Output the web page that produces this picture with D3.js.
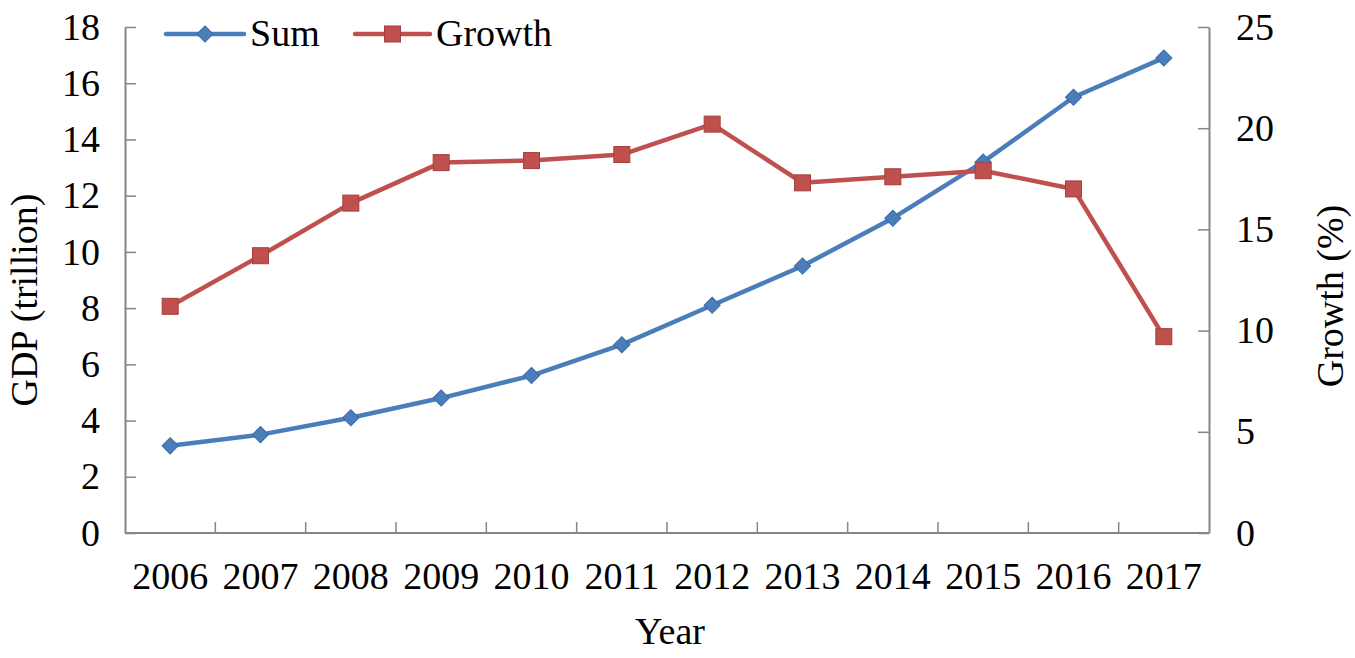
<!DOCTYPE html>
<html>
<head>
<meta charset="utf-8">
<script src="https://cdn.jsdelivr.net/npm/d3@7"></script>
<style>
  html, body { margin: 0; padding: 0; background: #fff; }
  svg { display: block; }
  text { font-family: "Liberation Serif", "Times New Roman", serif; fill: #000; }
</style>
</head>
<body>
<svg id="chart" width="1355" height="658"></svg>
<script>
const years = ["2006","2007","2008","2009","2010","2011","2012","2013","2014","2015","2016","2017"];
const sumValues = [3.1, 3.5, 4.1, 4.8, 5.6, 6.7, 8.1, 9.5, 11.2, 13.2, 15.5, 16.9];
const growthValues = [11.2, 13.7, 16.3, 18.3, 18.4, 18.7, 20.2, 17.3, 17.6, 17.9, 17.0, 9.7];
const leftTicks = [0, 2, 4, 6, 8, 10, 12, 14, 16, 18];
const rightTicks = [0, 5, 10, 15, 20, 25];
const seriesNames = ["Sum", "Growth"];

const svg = d3.select("#chart");
const m = { left: 125, right: 1209, top: 27, bottom: 533 };
const axisColor = "#868686";
const blue = "#4A7EBB", blueDark = "#3A6AA5";
const red = "#C0504D", redDark = "#A33F3C";
const fs = 38;

const x = d3.scaleBand().domain(years).range([m.left, m.right]).paddingInner(0).paddingOuter(0);
const yL = d3.scaleLinear().domain([0, 18]).range([m.bottom, m.top]);
const yR = d3.scaleLinear().domain([0, 25]).range([m.bottom, m.top]);

// left axis
const gL = svg.append("g").attr("transform", `translate(${m.left},0)`)
  .call(d3.axisLeft(yL).tickValues(leftTicks).tickSizeInner(-11).tickSizeOuter(0).tickPadding(0).tickFormat(d3.format("d")));
gL.select(".domain").attr("stroke", axisColor).attr("stroke-width", 2);
gL.selectAll(".tick line").attr("stroke", axisColor).attr("stroke-width", 1.5);
gL.selectAll(".tick text").attr("x", -25).attr("font-size", fs).attr("font-family", "Liberation Serif").attr("fill", "#000");

// right axis
const gR = svg.append("g").attr("transform", `translate(${m.right},0)`)
  .call(d3.axisRight(yR).tickValues(rightTicks).tickSizeInner(-11).tickSizeOuter(0).tickFormat(d3.format("d")));
gR.select(".domain").attr("stroke", axisColor).attr("stroke-width", 2);
gR.selectAll(".tick line").attr("stroke", axisColor).attr("stroke-width", 1.5);
gR.selectAll(".tick text").attr("x", 27).attr("font-size", fs).attr("font-family", "Liberation Serif").attr("fill", "#000");

// bottom axis: ticks between categories
const gB = svg.append("g").attr("transform", `translate(0,${m.bottom})`)
  .call(d3.axisBottom(x).tickSize(0).tickPadding(29));
gB.select(".domain").attr("stroke", axisColor).attr("stroke-width", 2).attr("d", `M${m.left},0H${m.right}`);
gB.selectAll(".tick text").attr("font-size", fs).attr("font-family", "Liberation Serif").attr("fill", "#000").attr("dy", "0.71em");
const boundaries = years.slice(1).map(d => x(d));
gB.selectAll("line.sep").data(boundaries).enter().append("line")
  .attr("class", "sep").attr("x1", d => d).attr("x2", d => d).attr("y1", 0).attr("y2", -11)
  .attr("stroke", axisColor).attr("stroke-width", 1.5);

// axis titles
svg.append("text").attr("x", 670).attr("y", 644).attr("text-anchor", "middle").attr("font-size", fs).text("Year");
svg.append("text").attr("transform", `translate(37,300) rotate(-90)`)
  .attr("text-anchor", "middle").attr("font-size", fs).text("GDP (trillion)");
svg.append("text").attr("transform", `translate(1343,296) rotate(-90)`)
  .attr("text-anchor", "middle").attr("font-size", fs).text("Growth (%)");

const cx = d => x(d) + x.bandwidth() / 2;

// Sum line
const lineL = d3.line().x((d, i) => cx(years[i])).y(d => yL(d));
svg.append("path").datum(sumValues).attr("d", lineL).attr("fill", "none")
  .attr("stroke", blue).attr("stroke-width", 4.5).attr("stroke-linejoin", "round");
// Growth line
const lineR = d3.line().x((d, i) => cx(years[i])).y(d => yR(d));
svg.append("path").datum(growthValues).attr("d", lineR).attr("fill", "none")
  .attr("stroke", red).attr("stroke-width", 4.5).attr("stroke-linejoin", "round");

const diamond = d3.symbol().type(d3.symbolSquare).size(130);
svg.selectAll("path.dm").data(sumValues).enter().append("path")
  .attr("class", "dm").attr("d", diamond)
  .attr("transform", (d, i) => `translate(${cx(years[i])},${yL(d)}) rotate(45)`)
  .attr("fill", blue).attr("stroke", blueDark).attr("stroke-width", 1);

svg.selectAll("rect.sq").data(growthValues).enter().append("rect")
  .attr("class", "sq")
  .attr("x", (d, i) => cx(years[i]) - 8).attr("y", d => yR(d) - 8)
  .attr("width", 16).attr("height", 16)
  .attr("fill", red).attr("stroke", redDark).attr("stroke-width", 1);

// legend
const leg = svg.append("g");
const legItems = [
  { name: seriesNames[0], x1: 166, x2: 244, color: blue, dark: blueDark, shape: "diamond" },
  { name: seriesNames[1], x1: 355, x2: 430, color: red, dark: redDark, shape: "square" }
];
legItems.forEach(it => {
  const ly = 34, mx = (it.x1 + it.x2) / 2;
  leg.append("line").attr("x1", it.x1).attr("x2", it.x2).attr("y1", ly).attr("y2", ly)
    .attr("stroke", it.color).attr("stroke-width", 4.5).attr("stroke-linecap", "round");
  if (it.shape === "diamond") {
    leg.append("path").attr("d", diamond).attr("transform", `translate(${mx},${ly}) rotate(45)`)
      .attr("fill", it.color).attr("stroke", it.dark);
  } else {
    leg.append("rect").attr("x", mx - 8).attr("y", ly - 8).attr("width", 16).attr("height", 16)
      .attr("fill", it.color).attr("stroke", it.dark);
  }
  leg.append("text").attr("x", it.x2 + 6).attr("y", ly + 12).attr("font-size", fs).text(it.name);
});
</script>
</body>
</html>
